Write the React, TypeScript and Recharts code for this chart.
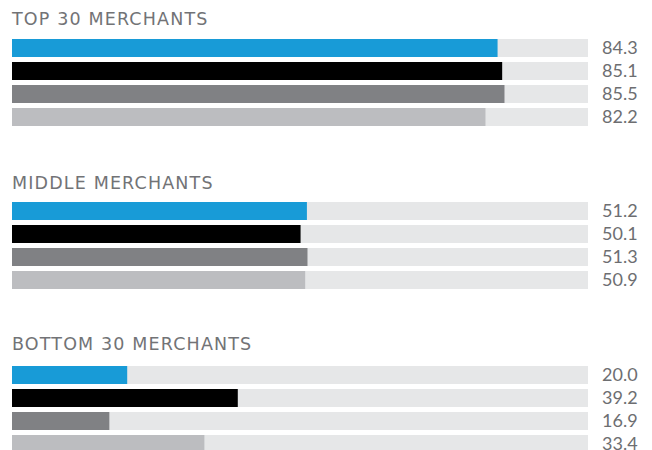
import React from "react";
import { BarChart, Bar, XAxis, YAxis, Cell } from "recharts";

const groupTitles = ["TOP 30 MERCHANTS", "MIDDLE MERCHANTS", "BOTTOM 30 MERCHANTS"];
const seriesNames = ["Series 1", "Series 2", "Series 3", "Series 4"];
const seriesColors = ["#189bd7", "#000000", "#808184", "#bcbdc0"];
const topValues = [84.3, 85.1, 85.5, 82.2];
const middleValues = [51.2, 50.1, 51.3, 50.9];
const bottomValues = [20.0, 39.2, 16.9, 33.4];
const groupValues = [topValues, middleValues, bottomValues];

const TITLE_FONT = "'DejaVu Sans', sans-serif";
const NUM_FONT = "Lato, 'Open Sans', sans-serif";
const TEXT = "#6d6e71";
const TRACK = "#e6e7e8";

const chartTops = [35.5, 198.5, 362.5];
const titleTops = [8.5, 172.5, 333.5];

function Group({ idx }: { idx: number }) {
  const data = seriesNames.map((name, i) => ({
    name,
    value: groupValues[idx][i],
    label: groupValues[idx][i].toFixed(1),
  }));
  return (
    <>
      <div
        style={{
          position: "absolute",
          left: 12,
          top: titleTops[idx],
          fontFamily: TITLE_FONT,
          fontSize: 17.5,
          lineHeight: "20px",
          color: "#727376",
          letterSpacing: 1.15,
          whiteSpace: "nowrap",
        }}
      >
        {groupTitles[idx]}
      </div>
      <div style={{ position: "absolute", left: 0, top: chartTops[idx] }}>
        <BarChart
          width={652}
          height={92}
          data={data}
          layout="vertical"
          margin={{ top: 0, right: 0, left: 12, bottom: 0 }}
          barCategoryGap={0}
        >
          <XAxis type="number" domain={[0, 100]} hide />
          <YAxis yAxisId="left" type="category" dataKey="name" hide />
          <YAxis
            yAxisId="right"
            orientation="right"
            type="category"
            dataKey="label"
            width={64}
            axisLine={false}
            tickLine={false}
            tickMargin={8}
            interval={0}
            tick={{ fill: TEXT, fontSize: 18, fontFamily: NUM_FONT }}
          />
          <Bar
            yAxisId="left"
            dataKey="value"
            barSize={18}
            background={{ fill: TRACK }}
            isAnimationActive={false}
          >
            {data.map((d, i) => (
              <Cell key={d.name} fill={seriesColors[i]} />
            ))}
          </Bar>
        </BarChart>
      </div>
    </>
  );
}

export default function App() {
  return (
    <div
      style={{
        position: "absolute",
        left: 0,
        top: 0,
        width: 652,
        height: 450,
        overflow: "hidden",
        background: "#ffffff",
      }}
    >
      {groupTitles.map((t, i) => (
        <Group key={t} idx={i} />
      ))}
    </div>
  );
}
